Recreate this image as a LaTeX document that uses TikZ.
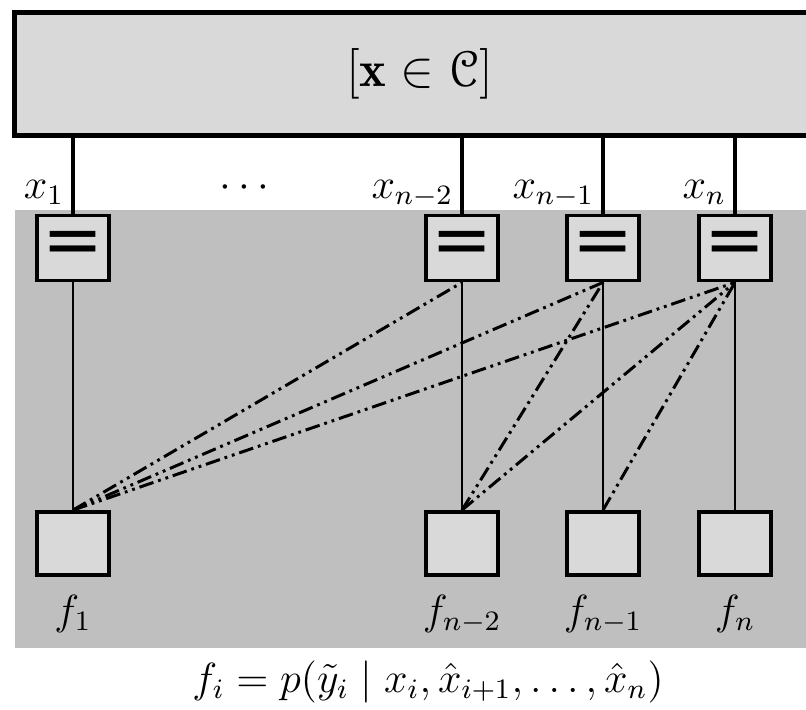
\documentclass[tikz,border=0pt]{standalone}
\usepackage{amsmath,amssymb}
\usepackage[mathcal]{eucal}
\usepackage{fontspec}
\newfontfamily\eqfont{DejaVu Sans}
\usetikzlibrary{positioning}

\begin{document}
\begin{tikzpicture}[font=\large,
    wire/.style={line width=1.1pt},
    link/.style={line width=0.7pt},
    msg/.style={line width=0.85pt,
                dash pattern=on 4.2pt off 1.4pt on 0.8pt off 1.4pt on 0.8pt off 1.4pt},
    eqbox/.style={draw,line width=1.1pt,fill=black!15,inner sep=0pt,
                  minimum width=0.72cm,minimum height=0.65cm,font=\huge\eqfont},
    factor/.style={draw,line width=1.1pt,fill=black!15,inner sep=0pt,
                   minimum width=0.72cm,minimum height=0.63cm},
    xlab/.style={pos=0.8,anchor=base east,inner sep=2pt}]
  \clip (0,0) rectangle (8.06,7.09);
  \fill[black!25] (0.15,0.61) rectangle (8.3,4.99);

  % code constraint
  \node[draw,line width=1.4pt,fill=black!15,anchor=north west,font=\Large,
        minimum width=8.1cm,minimum height=1.23cm] (code) at (0.12,6.99)
    {$[\mathbf{x}\in\mathcal{C}]$};

  % equality nodes
  \node[eqbox] (eq1)  at (0.73,4.61) {=};
  \node[eqbox] (eqn2) at (4.62,4.61) {=};
  \node[eqbox] (eqn1) at (6.03,4.61) {=};
  \node[eqbox] (eqn)  at (7.35,4.61) {=};

  % factor nodes
  \node[factor] (f1)  at (0.73,1.655) {};
  \node[factor] (fn2) at (4.62,1.655) {};
  \node[factor] (fn1) at (6.03,1.655) {};
  \node[factor] (fn)  at (7.35,1.655) {};
  \node[below=0.06cm of f1]  (lf1)  {$f_1$};
  \node[below=0.06cm of fn2] (lfn2) {$f_{n-2}$};
  \node[below=0.06cm of fn1] (lfn1) {$f_{n-1}$};
  \node[below=0.06cm of fn]  (lfn)  {$f_n$};

  % variable edges
  \draw[wire] (code.south -| eq1)  -- node[xlab] {$x_1$}     (eq1);
  \draw[wire] (code.south -| eqn2) -- node[xlab] {$x_{n-2}$} (eqn2);
  \draw[wire] (code.south -| eqn1) -- node[xlab] {$x_{n-1}$} (eqn1);
  \draw[wire] (code.south -| eqn)  -- node[xlab] {$x_n$}     (eqn);
  \node (dots) at (2.48,5.21) {$\cdots$};

  \foreach \v in {1,n2,n1,n}
    \draw[link] (eq\v) -- (f\v);

  % messages from later variables
  \foreach \a/\b in {f1/eqn2,f1/eqn1,f1/eqn,fn2/eqn1,fn2/eqn,fn1/eqn}
    \draw[msg] (\a.north) -- (\b.south);

  \node (rule) at (4.28,0.27)
    {$f_i = p(\tilde{y}_i \mid x_i, \hat{x}_{i+1}, \ldots, \hat{x}_n)$};
\end{tikzpicture}
\end{document}
